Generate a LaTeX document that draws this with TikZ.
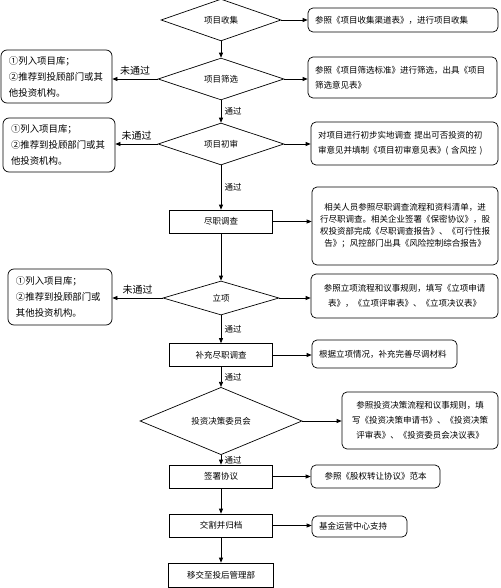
\documentclass[tikz,border=0pt]{standalone}
\usepackage{fontspec}
\setmainfont{Noto Sans CJK SC}
\usetikzlibrary{arrows.meta,shapes.geometric}
\tikzset{>/.tip={Triangle[length=5pt,width=4pt]}}

\begin{document}
\begin{tikzpicture}[x=1pt,y=-1pt,line width=0.7pt,
  every node/.style={font=\fontsize{8.5}{15}\selectfont},
  decide/.style={diamond,draw,inner sep=0pt},
  stepbox/.style={rectangle,draw,minimum width=103pt,minimum height=23pt,inner sep=0pt},
  note/.style={rectangle,draw,rounded corners=5pt,inner xsep=7pt,inner ysep=0pt,align=left},
  reject/.style={rectangle,draw,rounded corners=6pt,inner xsep=8pt,inner ysep=0pt,align=left,
    font=\fontsize{9.4}{16}\selectfont},
  passlabel/.style={font=\fontsize{8.5}{10}\selectfont},
  faillabel/.style={font=\fontsize{10}{12}\selectfont}]
\useasboundingbox (0,0) rectangle (500,588);
% main column
\node[decide,minimum width=120pt,minimum height=40pt] (collect) at (221,20)  {项目收集};
\node[decide,minimum width=126pt,minimum height=34pt] (screen)  at (221,79)  {项目筛选};
\node[decide,minimum width=126pt,minimum height=36pt] (review)  at (221,144) {项目初审};
\node[stepbox] (dilig) at (221,221.5) {尽职调查};
\node[decide,minimum width=116pt,minimum height=34pt] (approve) at (221,298) {立项};
\node[stepbox] (extra) at (221,355) {补充尽职调查};
\node[decide,minimum width=162pt,minimum height=42pt] (board)   at (221,421) {投资决策委员会};
\node[stepbox] (sign)    at (221,476.5) {签署协议};
\node[stepbox] (deliver) at (221,525.5) {交割并归档};
\node[stepbox,minimum width=105pt,minimum height=24pt] (handover) at (221,575) {移交至投后管理部};
% notes on the right
\node[note,text width=176pt,minimum height=24pt] (collectnote) at (403,20)
  {参照《项目收集渠道表》，进行项目收集};
\node[note,text width=175pt,minimum height=41pt] (screennote) at (402.5,77.5)
  {参照《项目筛选标准》进行筛选，出具《项目\\筛选意见表》};
\node[note,text width=173pt,minimum height=43pt] (reviewnote) at (404.5,143.5)
  {对项目进行初步实地调查 提出可否投资的初\\审意见并填制《项目初审意见表》( 含风控 )};
\node[note,align=center,text width=172pt,minimum height=78pt,
  font=\fontsize{8.5}{12}\selectfont] (dilignote) at (405,226)
  {相关人员参照尽职调查流程和资料清单，进\\行尽职调查。相关企业签署《保密协议》，股\\权投资部完成《尽职调查报告》、《可行性报\\告》；风控部门出具《风险控制综合报告》};
\node[note,align=center,text width=173pt,minimum height=44pt] (approvenote) at (404.5,296)
  {参照立项流程和议事规则，填写《立项申请\\表》，《立项评审表》、《立项决议表》};
\node[note,text width=131pt,minimum height=28pt] (extranote) at (384.5,354)
  {根据立项情况，补充完善尽调材料};
\node[note,align=center,text width=142pt,minimum height=57pt] (boardnote) at (420,420.5)
  {参照投资决策流程和议事规则，填\\写《投资决策申请书》、《投资决策\\评审表》、《投资委员会决议表》};
\node[note,align=center,text width=115pt,minimum height=23pt] (signnote) at (375.5,476.5)
  {参照《股权转让协议》范本};
\node[note,text width=81pt,minimum height=21pt] (delivernote) at (359.5,526.5)
  {基金运营中心支持};
% rejected projects on the left
\node[reject,text width=95pt,minimum height=53pt] (screenno) at (56.5,76.5)
  {①列入项目库；\\②推荐到投顾部门或其\\他投资机构。};
\node[reject,text width=96pt,minimum height=54pt] (reviewno) at (59,145)
  {①列入项目库；\\②推荐到投顾部门或其\\他投资机构。};
\node[reject,text width=88pt,minimum height=56pt] (approveno) at (60,297)
  {①列入项目库；\\②推荐到投顾部门或\\其他投资机构。};
% flow
\draw[->] (collect) -- (screen);
\draw[->] (screen) -- node[right,passlabel] {通过} (review);
\draw[->] (review) -- node[right,passlabel] {通过} (dilig);
\draw[->] (dilig) -- (approve);
\draw[->] (approve) -- node[right,passlabel] {通过} (extra);
\draw[->] (extra) -- node[right,passlabel] {通过} (board);
\draw[->] (board) -- node[right,passlabel] {通过} (sign);
\draw[->] (sign) -- (deliver);
\draw[->] (deliver) -- (handover);
\foreach \a/\b in {collect/collectnote,screen/screennote,review/reviewnote,
  dilig/dilignote,approve/approvenote,extra/extranote,board/boardnote,
  sign/signnote,deliver/delivernote}
{
  \draw[->] (\a.east) -- (\a.east -| \b.west);
}
\foreach \a/\b in {screen/screenno,review/reviewno,approve/approveno}
{
  \draw[->] (\a.west) -- node[above,faillabel] {未通过} (\a.west -| \b.east);
}
\end{tikzpicture}
\end{document}
